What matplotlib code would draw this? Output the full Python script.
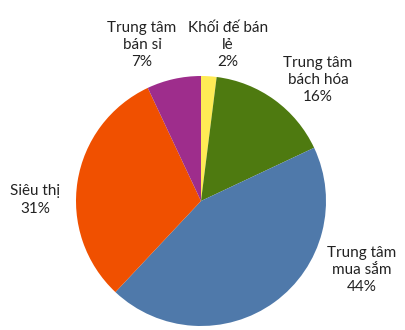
import matplotlib.pyplot as plt

labels = ['Khối đế bán\nlẻ', 'Trung tâm\nbách hóa', 'Trung tâm\nmua sắm', 'Siêu thị', 'Trung tâm\nbán sỉ']
values = [2, 16, 44, 31, 7]
colors = ['#FFEB55', '#4E7A10', '#4F79AA', '#F05000', '#9E2D8C']

# label positions in pixels (x, y from top)
label_pos = [(228, 45), (318, 80), (362, 270), (35, 200), (142, 45)]

plt.rcParams['font.family'] = ['Lato', 'DejaVu Sans']

fig = plt.figure(figsize=(4.05, 3.30), dpi=100)
ax = fig.add_axes([0, 0, 1, 1])
ax.set_xlim(0, 405)
ax.set_ylim(0, 330)
ax.set_aspect('equal')
ax.axis('off')

cx, cy, r = 201, 330 - 201, 125
ax.pie(values, colors=colors, startangle=90, counterclock=False,
       center=(cx, cy), radius=r, frame=True,
       wedgeprops=dict(linewidth=0))
ax.set_xlim(0, 405)
ax.set_ylim(0, 330)
ax.axis('off')

for lab, v, (x, y) in zip(labels, values, label_pos):
    ax.text(x, 330 - y, f'{lab}\n{v}%', ha='center', va='center',
            fontsize=11, color='#222222', linespacing=1.3)

fig.savefig('out.png', dpi=100)
